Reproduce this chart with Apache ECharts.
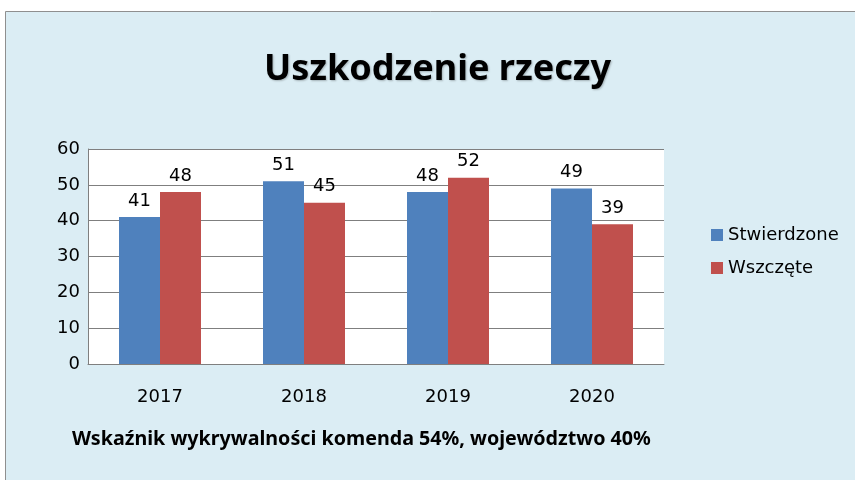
<!DOCTYPE html>
<html lang="pl">
<head>
    <meta charset="UTF-8">
    <title>Uszkodzenie rzeczy</title>
    <script src="https://cdn.jsdelivr.net/npm/echarts@6/dist/echarts.min.js"></script>
    <style>
        html, body { margin: 0; padding: 0; background: #fff; }
        #chart1 { width: 855px; height: 480px; }
    </style>
</head>
<body>
<div id="chart1"></div>
<script>
    // dane
    var years = ['2017', '2018', '2019', '2020'];
    var stwierdzone = [41, 51, 48, 49];
    var wszczete = [48, 45, 52, 39];
    var seriesNames = ['Stwierdzone', 'Wszczęte'];
    var yTicks = { min: 0, max: 60, interval: 10 };

    var myChart1 = echarts.init(document.getElementById('chart1'));

    var labelStyle = {
        show: true,
        position: 'top',
        distance: 7,
        color: '#000',
        fontFamily: 'DejaVu Sans',
        fontSize: 18
    };

    myChart1.setOption({
        backgroundColor: '#fff',
        animation: false,
        graphic: [{
            type: 'rect',
            z: -10,
            shape: { x: 5.5, y: 11.5, width: 860, height: 480 },
            style: { fill: '#dbedf4', stroke: '#8f8f8f', lineWidth: 1 }
        }, {
            type: 'text',
            left: 72,
            top: 429,
            style: {
                text: 'Wskaźnik wykrywalności komenda 54%, województwo 40%',
                fontFamily: 'Noto Sans',
                fontWeight: 'bold',
                fontSize: 19.7,
                fill: '#000'
            }
        }],
        title: {
            text: 'Uszkodzenie rzeczy',
            left: 259,
            top: 47,
            textStyle: {
                fontFamily: 'Noto Sans',
                fontWeight: 'bold',
                fontSize: 36,
                color: '#000',
                textShadowColor: 'rgba(0,0,0,0.25)',
                textShadowBlur: 2,
                textShadowOffsetX: 1,
                textShadowOffsetY: 1
            }
        },
        legend: {
            orient: 'vertical',
            left: 706,
            top: 221,
            itemWidth: 12,
            itemHeight: 12,
            itemGap: 15,
            icon: 'rect',
            textStyle: { fontFamily: 'DejaVu Sans', fontSize: 18, color: '#000' },
            data: seriesNames
        },
        grid: {
            left: 88, top: 149, width: 576, height: 215,
            show: true, backgroundColor: '#fff', borderWidth: 0
        },
        xAxis: {
            type: 'category',
            data: years,
            axisLine: { lineStyle: { color: '#7f7f7f', width: 1 } },
            axisTick: { show: false },
            axisLabel: { color: '#000', fontFamily: 'DejaVu Sans', fontSize: 18, margin: 24 }
        },
        yAxis: {
            type: 'value',
            min: yTicks.min,
            max: yTicks.max,
            interval: yTicks.interval,
            axisLine: { show: true, lineStyle: { color: '#7f7f7f', width: 1 } },
            axisTick: { show: false },
            splitLine: { lineStyle: { color: '#7f7f7f', width: 1 } },
            axisLabel: { color: '#000', fontFamily: 'DejaVu Sans', fontSize: 18, margin: 8 }
        },
        series: [{
            name: seriesNames[0],
            type: 'bar',
            barWidth: 41,
            barGap: '0%',
            itemStyle: { color: '#4f81bd' },
            label: labelStyle,
            data: stwierdzone
        }, {
            name: seriesNames[1],
            type: 'bar',
            barWidth: 41,
            barGap: '0%',
            itemStyle: { color: '#c0504d' },
            label: labelStyle,
            data: wszczete
        }]
    });
</script>
</body>
</html>
